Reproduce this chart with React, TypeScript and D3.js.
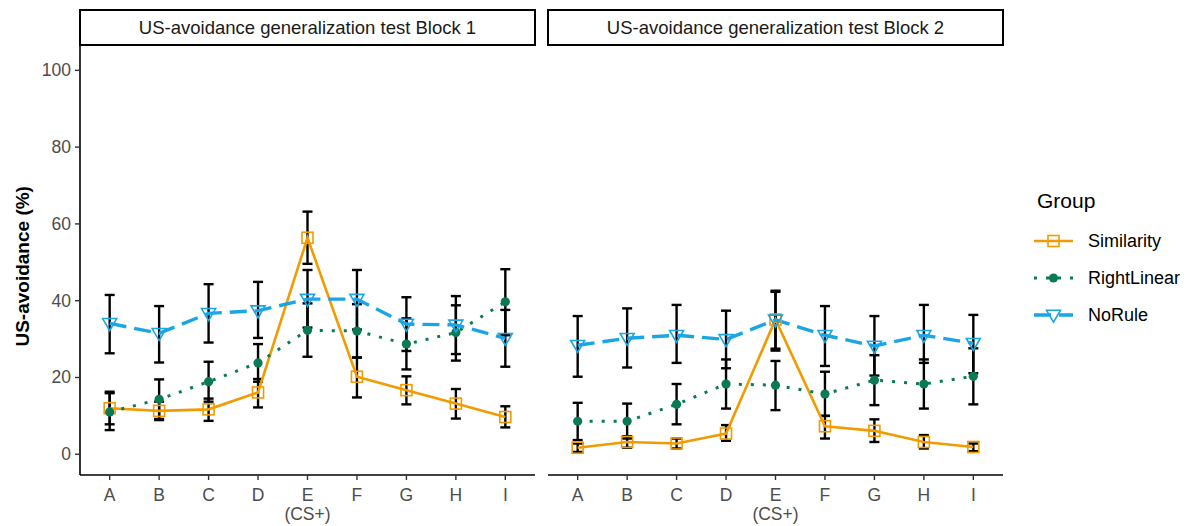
import React from "react";
import * as d3 from "d3";

const categories = ["A", "B", "C", "D", "E", "F", "G", "H", "I"];
const panels = ["US-avoidance generalization test Block 1", "US-avoidance generalization test Block 2"];
const groups = ["Similarity", "RightLinear", "NoRule"];
const yTicks = [0, 20, 40, 60, 80, 100];

// Block 1
const sim1Mean = [12.0, 11.3, 11.7, 16.1, 56.4, 20.2, 16.7, 13.2, 9.7];
const sim1Low = [7.8, 8.9, 8.7, 12.2, 49.6, 14.8, 13.0, 9.3, 7.0];
const sim1High = [16.3, 13.7, 14.5, 19.6, 63.2, 25.2, 20.3, 17.0, 12.5];
const rl1Mean = [11.0, 14.3, 18.9, 23.8, 32.3, 32.1, 28.7, 31.7, 39.7];
const rl1Low = [6.3, 9.2, 13.7, 18.9, 25.4, 25.2, 22.1, 24.4, 31.0];
const rl1High = [15.9, 19.5, 24.1, 28.7, 39.3, 39.1, 35.4, 38.8, 48.2];
const nr1Mean = [34.1, 31.5, 36.7, 37.4, 40.4, 40.4, 33.9, 33.7, 30.2];
const nr1Low = [26.3, 23.9, 29.1, 30.3, 33.0, 32.5, 26.9, 26.1, 22.8];
const nr1High = [41.5, 38.6, 44.3, 44.9, 48.0, 48.0, 40.9, 41.2, 37.6];

// Block 2
const sim2Mean = [1.7, 3.2, 2.8, 5.4, 35.1, 7.3, 6.1, 3.2, 1.9];
const sim2Low = [0.6, 1.7, 1.5, 3.5, 27.0, 4.1, 3.2, 1.5, 0.8];
const sim2High = [2.8, 4.7, 4.1, 7.6, 42.6, 10.0, 9.1, 5.0, 2.8];
const rl2Mean = [8.6, 8.6, 13.0, 18.3, 18.0, 15.7, 19.3, 18.3, 20.3];
const rl2Low = [3.7, 4.1, 7.8, 11.9, 11.5, 10.0, 12.8, 11.9, 13.0];
const rl2High = [13.4, 13.2, 18.3, 24.7, 24.3, 21.5, 25.8, 24.7, 27.6];
const nr2Mean = [28.4, 30.2, 31.0, 29.9, 35.0, 31.0, 28.2, 31.0, 28.9];
const nr2Low = [20.2, 22.6, 23.8, 22.4, 27.5, 23.0, 20.5, 23.8, 21.1];
const nr2High = [36.0, 38.0, 38.9, 37.4, 42.3, 38.6, 36.0, 38.9, 36.3];

const colors: Record<string, string> = {
  Similarity: "#F29B00",
  RightLinear: "#0A7A56",
  NoRule: "#1AA5E6",
};
const dashes: Record<string, string | undefined> = {
  Similarity: undefined,
  RightLinear: "3,9",
  NoRule: "17,8",
};
const widths: Record<string, number> = { Similarity: 2.6, RightLinear: 3, NoRule: 3.4 };

type Series = { group: string; mean: number[]; low: number[]; high: number[] };
const panelData: Series[][] = [
  [
    { group: "Similarity", mean: sim1Mean, low: sim1Low, high: sim1High },
    { group: "RightLinear", mean: rl1Mean, low: rl1Low, high: rl1High },
    { group: "NoRule", mean: nr1Mean, low: nr1Low, high: nr1High },
  ],
  [
    { group: "Similarity", mean: sim2Mean, low: sim2Low, high: sim2High },
    { group: "RightLinear", mean: rl2Mean, low: rl2Low, high: rl2High },
    { group: "NoRule", mean: nr2Mean, low: nr2Low, high: nr2High },
  ],
];

const FONT = "'Liberation Sans', Arial, Helvetica, sans-serif";
const panelLefts = [80, 548];
const panelW = 455;
const panelTop = 45;
const panelBottom = 475;
const stripTop = 10;

const y = d3.scaleLinear().domain([-5.4, 106.6]).range([panelBottom, panelTop]);

function Marker({ group, cx, cy }: { group: string; cx: number; cy: number }) {
  const c = colors[group];
  if (group === "Similarity") {
    const s = 11;
    return <rect x={cx - s / 2} y={cy - s / 2} width={s} height={s} fill="none" stroke={c} strokeWidth={1.6} />;
  }
  if (group === "RightLinear") {
    return <circle cx={cx} cy={cy} r={4.6} fill={c} />;
  }
  const w = 14, h = 12;
  const p = `M${cx - w / 2},${cy - h * 0.4}L${cx + w / 2},${cy - h * 0.4}L${cx},${cy + h * 0.6}Z`;
  return <path d={p} fill="none" stroke={c} strokeWidth={1.6} />;
}

export default function App() {
  const line = d3.line<[number, number]>().x((d) => d[0]).y((d) => d[1]);
  return (
    <svg width={1189} height={526} style={{ display: "block", position: "absolute", left: 0, top: 0 }} fontFamily={FONT}>
      <rect x={0} y={0} width={1189} height={526} fill="#fff" />
      {panels.map((title, pi) => {
        const left = panelLefts[pi];
        const x = d3.scalePoint<string>().domain(categories).range([left, left + panelW]).padding(0.6);
        const series = panelData[pi];
        return (
          <g key={pi}>
            <rect x={left} y={stripTop} width={panelW} height={panelTop - stripTop} fill="#fff" stroke="#000" strokeWidth={2} />
            <text x={left + panelW / 2} y={(stripTop + panelTop) / 2} textAnchor="middle" dominantBaseline="central" fontSize={18.5} fill="#1a1a1a">
              {title}
            </text>
            {/* x axis */}
            <line x1={left} x2={left + panelW} y1={panelBottom} y2={panelBottom} stroke="#000" strokeWidth={1.6} />
            {categories.map((cat) => (
              <g key={cat}>
                <line x1={x(cat)} x2={x(cat)} y1={panelBottom} y2={panelBottom + 5} stroke="#333" strokeWidth={1.4} />
                <text x={x(cat)} y={panelBottom + 20} textAnchor="middle" dominantBaseline="central" fontSize={17.5} fill="#4D4D4D">
                  {cat}
                </text>
                {cat === "E" && (
                  <text x={x(cat)} y={panelBottom + 39} textAnchor="middle" dominantBaseline="central" fontSize={17.5} fill="#4D4D4D">
                    (CS+)
                  </text>
                )}
              </g>
            ))}
            {pi === 0 && (
              <g>
                <line x1={left} x2={left} y1={panelTop} y2={panelBottom} stroke="#000" strokeWidth={1.6} />
                {yTicks.map((t) => (
                  <g key={t}>
                    <line x1={left - 5} x2={left} y1={y(t)} y2={y(t)} stroke="#333" strokeWidth={1.4} />
                    <text x={left - 9} y={y(t)} textAnchor="end" dominantBaseline="central" fontSize={17.5} fill="#4D4D4D">
                      {t}
                    </text>
                  </g>
                ))}
              </g>
            )}
            {/* error bars */}
            {series.map((s) => (
              <g key={s.group + "-eb"}>
                {categories.map((cat, i) => {
                  const cx = x(cat) as number;
                  return (
                    <g key={cat} stroke="#000" strokeWidth={2.4}>
                      <line x1={cx} x2={cx} y1={y(s.low[i])} y2={y(s.high[i])} />
                      <line x1={cx - 5} x2={cx + 5} y1={y(s.low[i])} y2={y(s.low[i])} />
                      <line x1={cx - 5} x2={cx + 5} y1={y(s.high[i])} y2={y(s.high[i])} />
                    </g>
                  );
                })}
              </g>
            ))}
            {/* lines */}
            {series.map((s) => (
              <path
                key={s.group + "-line"}
                d={line(categories.map((cat, i) => [x(cat) as number, y(s.mean[i])])) || ""}
                fill="none"
                stroke={colors[s.group]}
                strokeWidth={widths[s.group]}
                strokeDasharray={dashes[s.group]}
              />
            ))}
            {/* points */}
            {series.map((s) => (
              <g key={s.group + "-pts"}>
                {categories.map((cat, i) => (
                  <Marker key={cat} group={s.group} cx={x(cat) as number} cy={y(s.mean[i])} />
                ))}
              </g>
            ))}
          </g>
        );
      })}
      {/* y title */}
      <text transform={`translate(22,${(y(0) + y(100)) / 2 + 4}) rotate(-90)`} textAnchor="middle" dominantBaseline="central" fontSize={19} fontWeight="bold" fill="#000">
        US-avoidance (%)
      </text>
      {/* legend */}
      <text x={1037} y={208} fontSize={21} fill="#000">Group</text>
      {groups.map((g, i) => {
        const ly = 241 + i * 37;
        return (
          <g key={g}>
            <line x1={1034} x2={1073} y1={ly} y2={ly} stroke={colors[g]} strokeWidth={widths[g]} strokeDasharray={dashes[g]} />
            <Marker group={g} cx={1053.5} cy={ly} />
            <text x={1088} y={ly} dominantBaseline="central" fontSize={18} fill="#000">{g}</text>
          </g>
        );
      })}
    </svg>
  );
}
